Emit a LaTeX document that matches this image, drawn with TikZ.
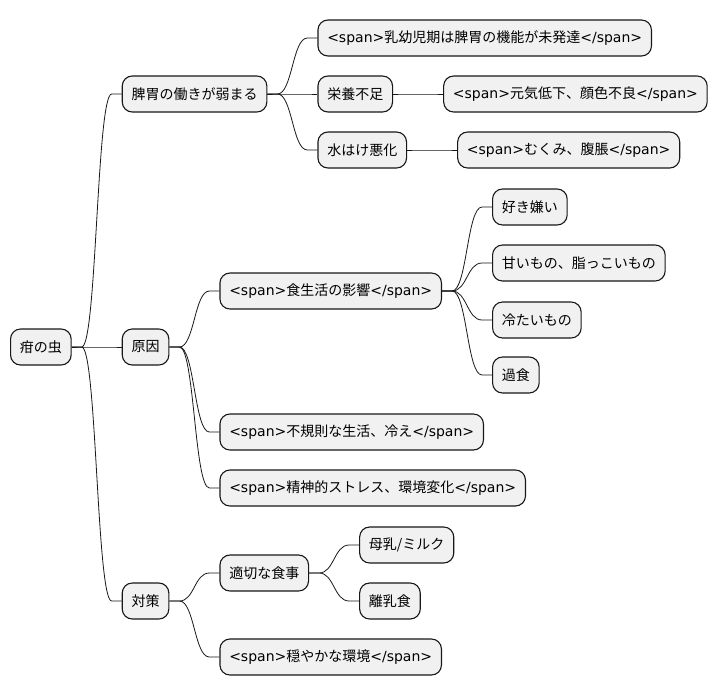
\documentclass[tikz,border=0pt]{standalone}
\usepackage{fontspec}
\setmainfont{DejaVu Sans}
\newfontfamily\jp{Noto Sans CJK JP}
\definecolor{boxfill}{HTML}{F1F1F1}
\definecolor{ink}{HTML}{181818}
\tikzset{
  box/.style={draw=ink, fill=boxfill, line width=1.1pt, rounded corners=10pt,
    minimum height=36pt, inner xsep=9.3pt, inner ysep=0pt, anchor=west,
    font=\fontsize{14pt}{16pt}\selectfont, text=black},
  conn/.style={draw=ink, line width=0.8pt}
}
\newcommand\conn[2]{\draw[conn] (#1.east) -- ++(10pt,0) .. controls +(15pt,0) and +(-15pt,0) .. ([xshift=-10pt]#2.west) -- (#2.west);}
\begin{document}
\begin{tikzpicture}[x=1pt,y=-1pt]
\useasboundingbox[fill=white] (0,0) rectangle (719,696);
% root
\node[box] (root) at (10,347) {\jp 疳の虫};
% level 1
\node[box] (hi) at ([xshift=50pt]root.east |- 0,94) {\jp 脾胃の働きが弱まる};
\node[box] (gen) at ([xshift=50pt]root.east |- 0,347) {\jp 原因};
\node[box] (tai) at ([xshift=50pt]root.east |- 0,601) {\jp 対策};
% hi children
\node[box] (nyu) at ([xshift=50pt]hi.east |- 0,38) {<span>{\jp 乳幼児期は脾胃の機能が未発達}</span>};
\node[box] (eiyo) at ([xshift=50pt]hi.east |- 0,94) {\jp 栄養不足};
\node[box] (mizu) at ([xshift=50pt]hi.east |- 0,150) {\jp 水はけ悪化};
\node[box] (genki) at ([xshift=50pt]eiyo.east |- 0,94) {<span>{\jp 元気低下、顔色不良}</span>};
\node[box] (muku) at ([xshift=50pt]mizu.east |- 0,150) {<span>{\jp むくみ、腹脹}</span>};
% gen children
\node[box] (shoku) at ([xshift=50pt]gen.east |- 0,291) {<span>{\jp 食生活の影響}</span>};
\node[box] (fuki) at ([xshift=50pt]gen.east |- 0,432) {<span>{\jp 不規則な生活、冷え}</span>};
\node[box] (sei) at ([xshift=50pt]gen.east |- 0,488) {<span>{\jp 精神的ストレス、環境変化}</span>};
\node[box] (suki) at ([xshift=50pt]shoku.east |- 0,207) {\jp 好き嫌い};
\node[box] (amai) at ([xshift=50pt]shoku.east |- 0,263) {\jp 甘いもの、脂っこいもの};
\node[box] (tsume) at ([xshift=50pt]shoku.east |- 0,320) {\jp 冷たいもの};
\node[box] (kasho) at ([xshift=50pt]shoku.east |- 0,375) {\jp 過食};
% tai children
\node[box] (teki) at ([xshift=50pt]tai.east |- 0,573) {\jp 適切な食事};
\node[box] (oda) at ([xshift=50pt]tai.east |- 0,657) {<span>{\jp 穏やかな環境}</span>};
\node[box] (bonyu) at ([xshift=50pt]teki.east |- 0,545) {\jp 母乳/ミルク};
\node[box] (rinyu) at ([xshift=50pt]teki.east |- 0,601) {\jp 離乳食};
% connectors
\conn{root}{hi}\conn{root}{gen}\conn{root}{tai}
\conn{hi}{nyu}\conn{hi}{eiyo}\conn{hi}{mizu}
\conn{eiyo}{genki}\conn{mizu}{muku}
\conn{gen}{shoku}\conn{gen}{fuki}\conn{gen}{sei}
\conn{shoku}{suki}\conn{shoku}{amai}\conn{shoku}{tsume}\conn{shoku}{kasho}
\conn{tai}{teki}\conn{tai}{oda}
\conn{teki}{bonyu}\conn{teki}{rinyu}
\end{tikzpicture}
\end{document}
